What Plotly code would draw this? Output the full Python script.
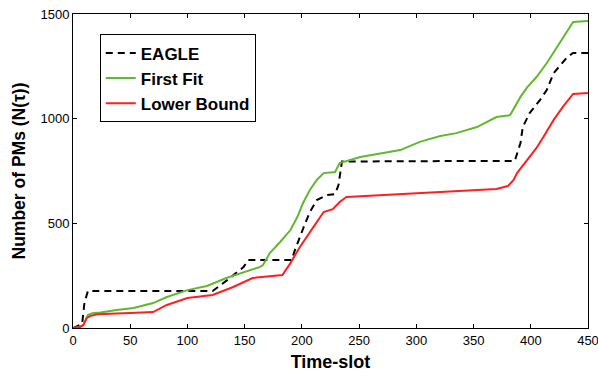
import plotly.graph_objects as go

# EAGLE
eagle_t = [0, 8, 10, 13, 60, 122, 135, 149, 153, 191, 194, 198, 203, 207, 213, 222, 229, 232, 235, 300, 386, 391, 393, 399, 408, 414, 420, 426, 432, 437, 450]
eagle_v = [0, 20, 120, 177, 177, 177, 230, 291, 325, 325, 373, 435, 502, 554, 611, 635, 640, 683, 795, 797, 798, 884, 960, 1027, 1089, 1137, 1218, 1256, 1295, 1314, 1314]

# First Fit
ff_t = [0, 6, 9, 13, 17, 24, 38, 53, 70, 82, 100, 117, 134, 152, 163, 166, 172, 181, 190, 196, 201, 207, 213, 219, 225, 229, 233, 251, 271, 286, 303, 321, 335, 353, 370, 382, 391, 397, 405, 414, 423, 431, 437, 450]
ff_v = [0, 5, 14, 62, 70, 74, 86, 96, 119, 148, 181, 201, 239, 272, 291, 301, 358, 411, 468, 530, 597, 659, 707, 740, 742, 745, 788, 817, 836, 850, 889, 917, 931, 960, 1008, 1017, 1104, 1151, 1199, 1266, 1342, 1414, 1462, 1467]

# Lower Bound
lb_t = [0, 6, 9, 12, 15, 21, 50, 70, 82, 100, 122, 140, 157, 169, 183, 190, 198, 210, 219, 227, 233, 239, 300, 370, 380, 385, 388, 397, 405, 411, 420, 428, 437, 450]
lb_v = [0, 5, 14, 48, 57, 66, 72, 76, 110, 143, 158, 196, 239, 244, 253, 310, 385, 482, 554, 568, 602, 626, 645, 664, 678, 707, 740, 803, 860, 912, 994, 1056, 1118, 1123]

x_ticks = [0, 50, 100, 150, 200, 250, 300, 350, 400, 450]
y_ticks = [0, 500, 1000, 1500]

FONT = "Liberation Sans, Arial"

fig = go.Figure()
fig.add_trace(go.Scatter(x=eagle_t, y=eagle_v, mode="lines", name="<b>EAGLE</b>",
                         line=dict(color="black", width=2, dash="7px,5px")))
fig.add_trace(go.Scatter(x=ff_t, y=ff_v, mode="lines", name="<b>First Fit</b>",
                         line=dict(color="#62b730", width=2)))
fig.add_trace(go.Scatter(x=lb_t, y=lb_v, mode="lines", name="<b>Lower Bound</b>",
                         line=dict(color="#ff1f1f", width=2)))

axis_common = dict(showgrid=False, zeroline=False, showline=True, linecolor="black",
                   linewidth=1, mirror="ticks", ticks="inside", ticklen=4,
                   tickcolor="black", automargin=False, ticklabeloverflow="allow",
                   tickfont=dict(family=FONT, size=13, color="black"))

fig.update_layout(
    width=598, height=376,
    margin=dict(l=73, r=10, t=14, b=48),
    plot_bgcolor="white", paper_bgcolor="white",
    xaxis=dict(range=[0, 450], tickvals=x_ticks,
               title=dict(text="<b>Time-slot</b>", standoff=8,
                          font=dict(family=FONT, size=18, color="black")),
               **axis_common),
    yaxis=dict(range=[0, 1500], tickvals=y_ticks,
               title=dict(text="<b>Number of PMs (N(τ))</b>", standoff=10,
                          font=dict(family=FONT, size=17.5, color="black")),
               **axis_common),
    legend=dict(x=0.052, y=0.935, xanchor="left", yanchor="top",
                bordercolor="black", borderwidth=1, bgcolor="white",
                font=dict(family=FONT, size=17, color="black"),
                tracegroupgap=0, itemwidth=30),
    showlegend=True,
)

fig.write_html("out.html")
